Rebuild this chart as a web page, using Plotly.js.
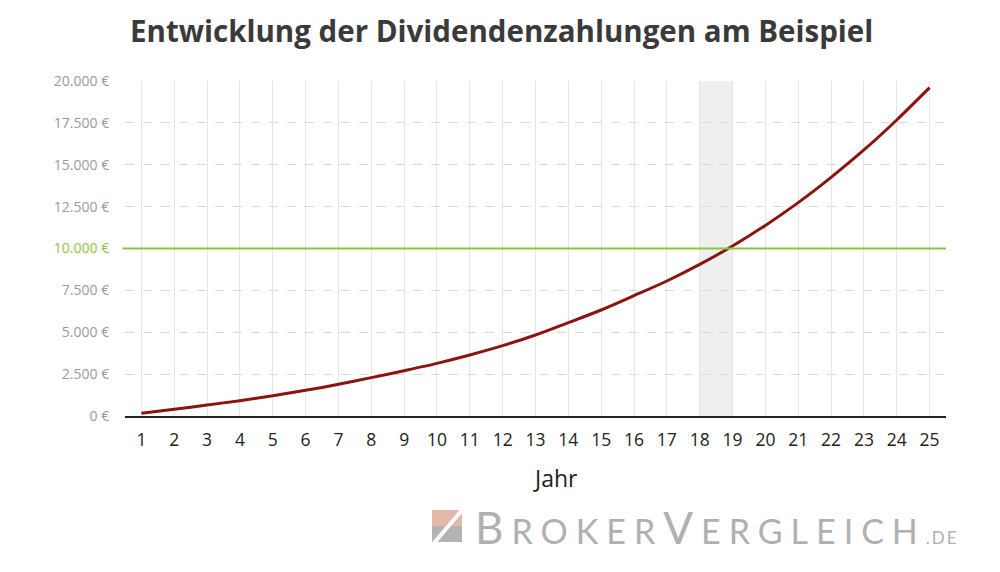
<!DOCTYPE html>
<html>
<head>
<meta charset="utf-8">
<script src="https://cdn.plot.ly/plotly-3.0.1.min.js"></script>
<style>html,body{margin:0;padding:0;background:#fff;}#chart{width:1000px;height:572px;}</style>
</head>
<body>
<div id="chart"></div>
<script>
const years = [1,2,3,4,5,6,7,8,9,10,11,12,13,14,15,16,17,18,19,20,21,22,23,24,25];
const dividends = [170,400,657,915,1213,1532,1890,2290,2707,3144,3641,4199,4836,5572,6328,7184,8060,9050,10150,11380,12740,14248,15881,17672,19602];
const targetValue = 10000;
const highlightYears = [18, 19];
const yTickVals = [0,2500,5000,7500,10000,12500,15000,17500,20000];
const yTickLabels = ["0 €","2.500 €","5.000 €","7.500 €","10.000 €","12.500 €","15.000 €","17.500 €","20.000 €"];
const titleText = "Entwicklung der Dividendenzahlungen am Beispiel";
const xTitle = "Jahr";

const green = "#8cc63f";
const tickText = yTickLabels.map((t, i) => yTickVals[i] === targetValue ? `<span style="color:${green}">${t}</span>` : t);

const traces = [{
  x: years, y: dividends, type: "scatter", mode: "lines",
  line: {color: "#8b1410", width: 3, shape: "spline", smoothing: 0.8},
  hoverinfo: "skip", showlegend: false
}];

const px2x = p => (p - 125) / 821;
const px2y = p => (416 - p) / 335;

const layout = {
  width: 1000, height: 572,
  margin: {l: 125, r: 54, t: 81, b: 156},
  paper_bgcolor: "#fff", plot_bgcolor: "#fff",
  font: {family: "Open Sans, sans-serif"},
  title: {
    text: titleText,
    font: {family: "Open Sans, sans-serif", size: 29.5, color: "#3a3a3a", weight: 700},
    x: 0.13, xanchor: "left", xref: "container",
    y: 1 - 32/572, yanchor: "middle", yref: "container"
  },
  xaxis: {
    range: [0.5, 25.5], tickmode: "array", tickvals: years, ticktext: years.map(String),
    showgrid: true, gridcolor: "#e6e6e6", gridwidth: 1,
    showline: true, linecolor: "#222", linewidth: 1.5,
    zeroline: false, ticks: "outside", ticklen: 7, tickcolor: "rgba(0,0,0,0)",
    tickfont: {family: "Open Sans, sans-serif", size: 17.5, color: "#222"},
    fixedrange: true
  },
  yaxis: {
    range: [0, 20000], tickmode: "array", tickvals: yTickVals, ticktext: tickText,
    showgrid: true, gridcolor: "#d9d9d9", gridwidth: 1, griddash: "dash",
    zeroline: false, showline: false,
    ticks: "outside", ticklen: 12, tickcolor: "rgba(0,0,0,0)",
    tickfont: {family: "Open Sans, sans-serif", size: 14, color: "#9a9a9a"},
    fixedrange: true
  },
  shapes: [
    {type: "rect", xref: "x", yref: "paper", x0: highlightYears[0], x1: highlightYears[1], y0: 0, y1: 1,
     fillcolor: "#efefef", line: {width: 0}, layer: "below"},
    {type: "line", xref: "paper", yref: "y", x0: -0.003, x1: 1, y0: targetValue, y1: targetValue,
     line: {color: green, width: 2}, layer: "above"},
    // logo icon
    {type: "rect", xref: "paper", yref: "paper", x0: px2x(432), x1: px2x(462),
     y0: px2y(526), y1: px2y(510), fillcolor: "#e3b8a8", line: {width: 0}},
    {type: "rect", xref: "paper", yref: "paper", x0: px2x(432), x1: px2x(462),
     y0: px2y(542), y1: px2y(526), fillcolor: "#b3b3b3", line: {width: 0}},
    {type: "line", xref: "paper", yref: "paper", x0: px2x(434), x1: px2x(463),
     y0: px2y(543), y1: px2y(509), line: {color: "#fff", width: 4}}
  ],
  annotations: [
    {xref: "paper", yref: "paper", x: px2x(555), y: px2y(478), xanchor: "center", yanchor: "middle",
     showarrow: false, text: xTitle,
     font: {family: "Open Sans, sans-serif", size: 23, color: "#222"}},
    {xref: "paper", yref: "paper", x: px2x(473), y: px2y(527), xanchor: "left", yanchor: "middle",
     showarrow: false,
     text: '<span style="letter-spacing:8px"><span style="font-size:44px">B</span>ROKER<span style="font-size:44px">V</span>ERGLEICH</span><span style="font-size:17px;letter-spacing:2px">.DE</span>',
     font: {family: "Lato, Open Sans, sans-serif", size: 34, color: "#b0b0b0", weight: 400}}
  ]
};

Plotly.newPlot("chart", traces, layout, {displayModeBar: false, staticPlot: true});
</script>
</body>
</html>
